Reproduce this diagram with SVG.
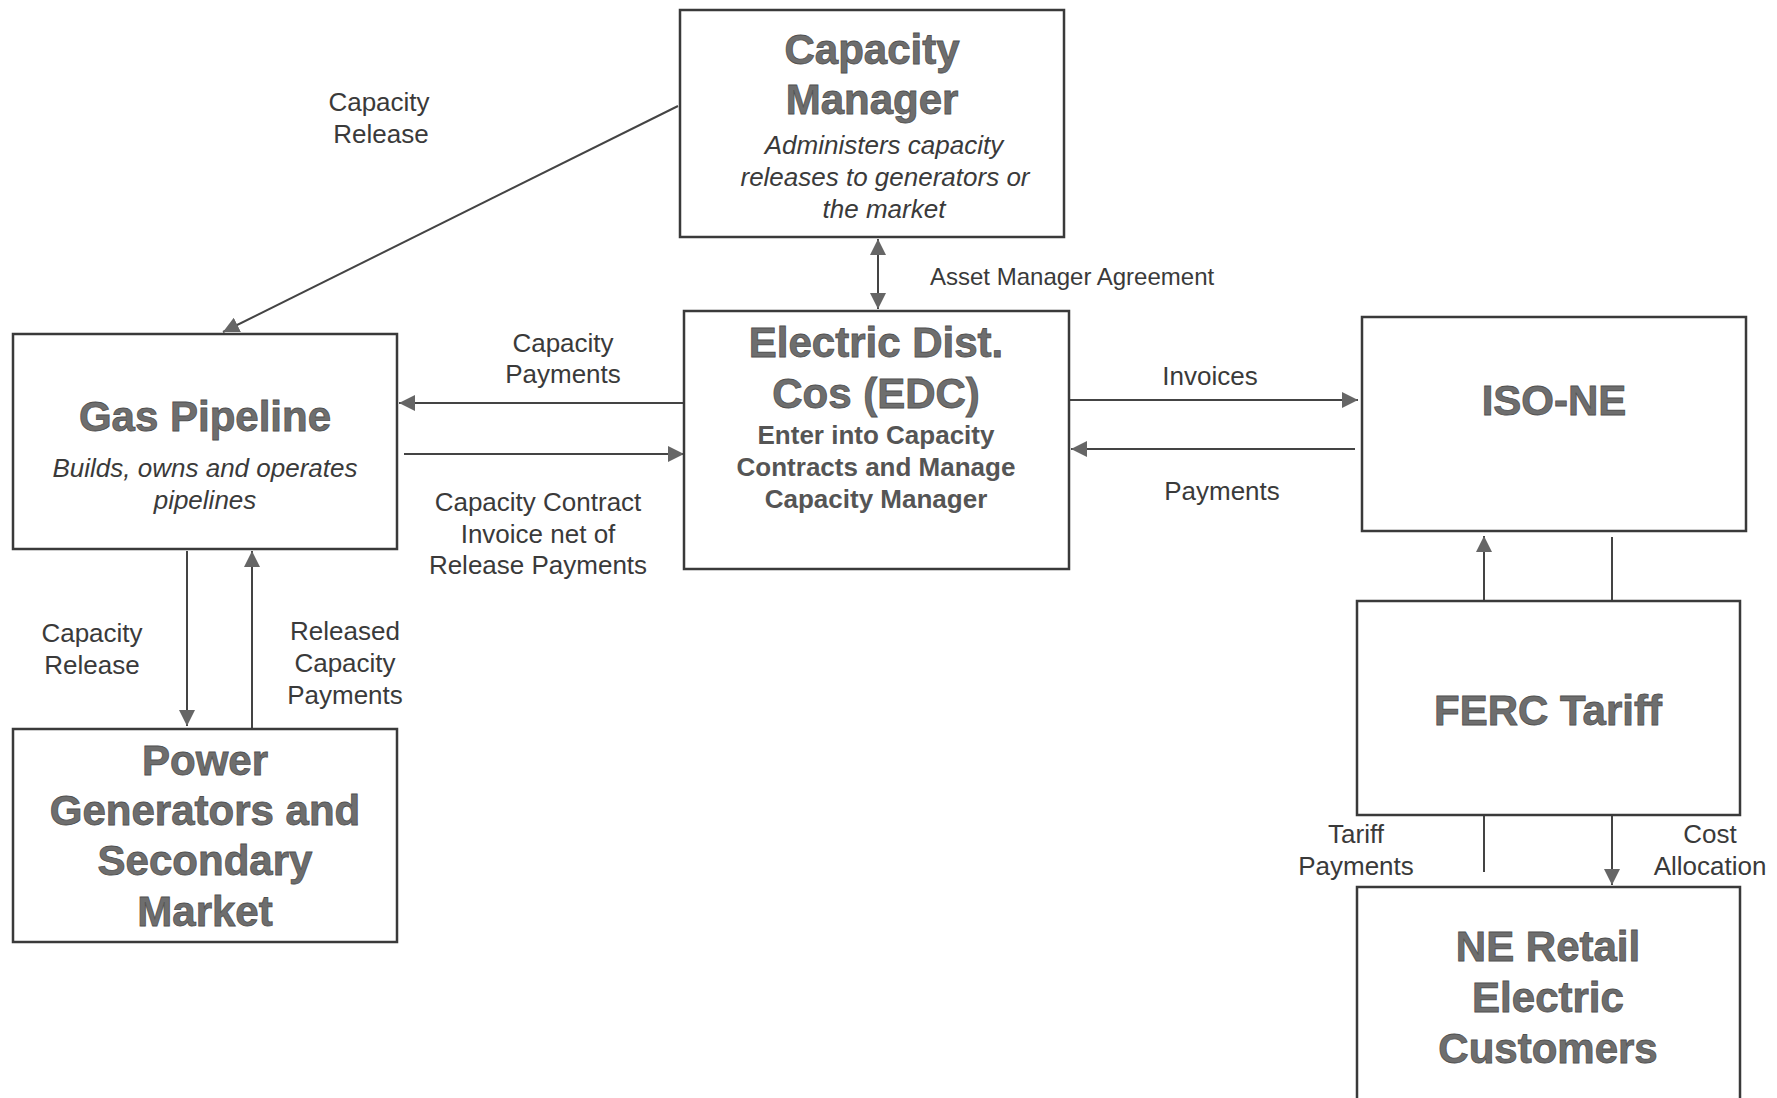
<svg xmlns="http://www.w3.org/2000/svg" width="1777" height="1098" viewBox="0 0 1777 1098">
<style>
.box{fill:#fff;stroke:#3a3a3a;stroke-width:2.5}
.title{font-family:"Liberation Sans",Arial,sans-serif;font-weight:bold;font-size:42px;fill:#6e6e6e;stroke:#505050;stroke-width:0.8;text-anchor:middle}
.sub{font-family:"Liberation Sans",Arial,sans-serif;font-style:italic;font-size:26px;fill:#3a3a3a;text-anchor:middle}
.subb{font-family:"Liberation Sans",Arial,sans-serif;font-weight:bold;font-size:26px;fill:#555;text-anchor:middle}
.lbl{font-family:"Liberation Sans",Arial,sans-serif;font-size:26px;fill:#3a3a3a;text-anchor:middle}
.lbls{font-family:"Liberation Sans",Arial,sans-serif;font-size:24px;fill:#3a3a3a;text-anchor:start}
.conn{stroke:#444;stroke-width:2;fill:none}
</style>
<defs>
<marker id="ah" viewBox="0 0 10 10" refX="10" refY="5" markerWidth="16" markerHeight="16" markerUnits="userSpaceOnUse" orient="auto-start-reverse">
<path d="M0,0 L10,5 L0,10 z" fill="#666"/>
</marker>
</defs>
<rect width="1777" height="1098" fill="#fff"/>

<g id="connectors">
<line class="conn" x1="678" y1="106" x2="223" y2="332" marker-end="url(#ah)"/>
<line class="conn" x1="878" y1="239" x2="878" y2="309" marker-start="url(#ah)" marker-end="url(#ah)"/>
<line class="conn" x1="684" y1="403" x2="399" y2="403" marker-end="url(#ah)"/>
<line class="conn" x1="404" y1="454" x2="684" y2="454" marker-end="url(#ah)"/>
<line class="conn" x1="1069" y1="400" x2="1358" y2="400" marker-end="url(#ah)"/>
<line class="conn" x1="1355" y1="449" x2="1071" y2="449" marker-end="url(#ah)"/>
<line class="conn" x1="187" y1="551" x2="187" y2="726" marker-end="url(#ah)"/>
<line class="conn" x1="252" y1="729" x2="252" y2="551" marker-end="url(#ah)"/>
<line class="conn" x1="1484" y1="601" x2="1484" y2="536" marker-end="url(#ah)"/>
<line class="conn" x1="1612" y1="537" x2="1612" y2="601"/>
<line class="conn" x1="1484" y1="815" x2="1484" y2="872"/>
<line class="conn" x1="1612" y1="815" x2="1612" y2="885" marker-end="url(#ah)"/>
<text class="lbl" x="379" y="111">Capacity</text>
<text class="lbl" x="381" y="143">Release</text>
<text class="lbls" x="930" y="285">Asset Manager Agreement</text>
<text class="lbl" x="563" y="352">Capacity</text>
<text class="lbl" x="563" y="383">Payments</text>
<text class="lbl" x="538" y="511">Capacity Contract</text>
<text class="lbl" x="538" y="543">Invoice net of</text>
<text class="lbl" x="538" y="574">Release Payments</text>
<text class="lbl" x="1210" y="385">Invoices</text>
<text class="lbl" x="1222" y="500">Payments</text>
<text class="lbl" x="92" y="642">Capacity</text>
<text class="lbl" x="92" y="674">Release</text>
<text class="lbl" x="345" y="640">Released</text>
<text class="lbl" x="345" y="672">Capacity</text>
<text class="lbl" x="345" y="704">Payments</text>
<text class="lbl" x="1356" y="843">Tariff</text>
<text class="lbl" x="1356" y="875">Payments</text>
<text class="lbl" x="1710" y="843">Cost</text>
<text class="lbl" x="1710" y="875">Allocation</text>
</g>

<g id="capacity-manager">
<rect class="box" x="680" y="10" width="384" height="227"/>
<text class="title" x="872" y="64">Capacity</text>
<text class="title" x="872" y="114">Manager</text>
<text class="sub" x="884" y="154">Administers capacity</text>
<text class="sub" x="885" y="186">releases to generators or</text>
<text class="sub" x="884" y="218">the market</text>
</g>

<g id="gas-pipeline">
<rect class="box" x="13" y="334" width="384" height="215"/>
<text class="title" x="205" y="431">Gas Pipeline</text>
<text class="sub" x="205" y="477">Builds, owns and operates</text>
<text class="sub" x="205" y="509">pipelines</text>
</g>

<g id="edc">
<rect class="box" x="684" y="311" width="385" height="258"/>
<text class="title" x="876" y="357">Electric Dist.</text>
<text class="title" x="876" y="408">Cos (EDC)</text>
<text class="subb" x="876" y="444">Enter into Capacity</text>
<text class="subb" x="876" y="476">Contracts and Manage</text>
<text class="subb" x="876" y="508">Capacity Manager</text>
</g>

<g id="iso-ne">
<rect class="box" x="1362" y="317" width="384" height="214"/>
<text class="title" x="1554" y="415">ISO-NE</text>
</g>

<g id="ferc-tariff">
<rect class="box" x="1357" y="601" width="383" height="214"/>
<text class="title" x="1548" y="725">FERC Tariff</text>
</g>

<g id="ne-retail">
<rect class="box" x="1357" y="887" width="383" height="230"/>
<text class="title" x="1548" y="961">NE Retail</text>
<text class="title" x="1548" y="1012">Electric</text>
<text class="title" x="1548" y="1063">Customers</text>
</g>

<g id="power-generators">
<rect class="box" x="13" y="729" width="384" height="213"/>
<text class="title" x="205" y="775">Power</text>
<text class="title" x="205" y="825">Generators and</text>
<text class="title" x="205" y="875">Secondary</text>
<text class="title" x="205" y="926">Market</text>
</g>
</svg>
